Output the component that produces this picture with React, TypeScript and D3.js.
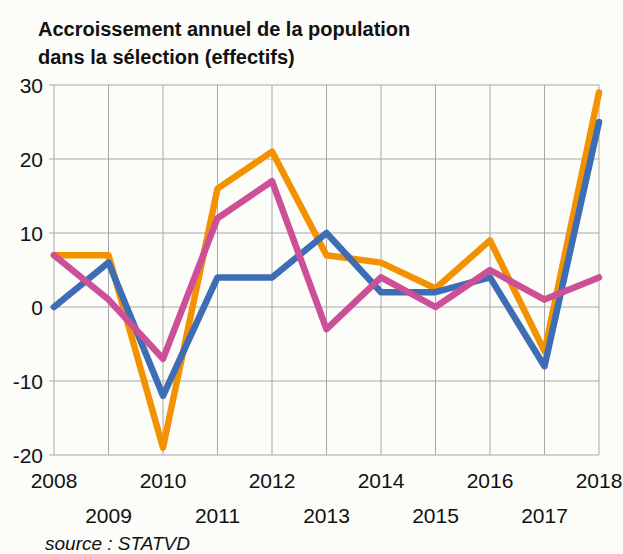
import React from "react";
import * as d3 from "d3";

const years = [2008, 2009, 2010, 2011, 2012, 2013, 2014, 2015, 2016, 2017, 2018];
const orangeSeries = [7, 7, -19, 16, 21, 7, 6, 2.5, 9, -6, 29];
const blueSeries = [0, 6, -12, 4, 4, 10, 2, 2, 4, -8, 25];
const pinkSeries = [7, 1, -7, 12, 17, -3, 4, 0, 5, 1, 4];
const yTicks = [-20, -10, 0, 10, 20, 30];
const titleLines = ["Accroissement annuel de la population", "dans la sélection (effectifs)"];
const sourceText = "source : STATVD";

const series = [
  { name: "orange", values: orangeSeries, color: "#F39200" },
  { name: "blue", values: blueSeries, color: "#3D6DB5" },
  { name: "pink", values: pinkSeries, color: "#CD4F97" },
];

export default function App() {
  const W = 623, H = 554;
  const x = d3.scaleLinear().domain([2008, 2018]).range([54, 599]);
  const y = d3.scaleLinear().domain([-20, 30]).range([455, 85]);
  const line = d3.line<number>().x((_, i) => x(years[i])).y((d) => y(d));
  const font = "'Liberation Sans', Arial, Helvetica, sans-serif";
  return (
    <svg width={W} height={H} style={{ position: "absolute", left: 0, top: 0, background: "#fcfcf8" }}>
      <rect width={W} height={H} fill="#fcfcf8" />
      {titleLines.map((t, i) => (
        <text key={i} x={38} y={36 + i * 27.5} fontFamily={font} fontWeight="bold" fontSize={20} fill="#111">
          {t}
        </text>
      ))}
      {years.map((yr) => (
        <line key={yr} x1={x(yr)} x2={x(yr)} y1={y(30)} y2={y(-20)} stroke="#a8a8a8" strokeWidth={1} />
      ))}
      {yTicks.map((t) => (
        <g key={t}>
          <line x1={x(2008) - 5} x2={x(2018)} y1={y(t)} y2={y(t)} stroke="#a8a8a8" strokeWidth={1} />
          <text x={43} y={y(t)} dy="0.36em" textAnchor="end" fontFamily={font} fontSize={21} fill="#111">
            {t}
          </text>
        </g>
      ))}
      {years.map((yr, i) => (
        <text key={yr} x={x(yr)} y={i % 2 === 0 ? 488 : 523} textAnchor="middle" fontFamily={font} fontSize={21} fill="#111">
          {yr}
        </text>
      ))}
      {series.map((s) => (
        <path key={s.name} d={line(s.values) || ""} fill="none" stroke={s.color} strokeWidth={6.5} strokeLinejoin="round" strokeLinecap="round" />
      ))}
      <text x={45} y={550} fontFamily={font} fontStyle="italic" fontSize={19} fill="#111">
        {sourceText}
      </text>
    </svg>
  );
}
